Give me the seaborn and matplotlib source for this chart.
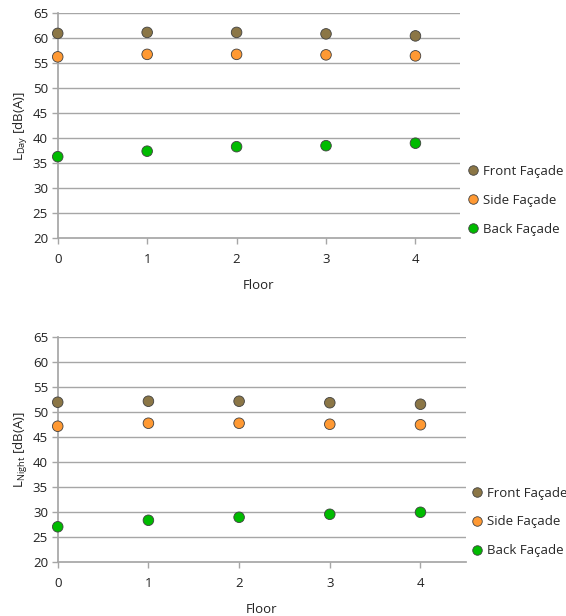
import pandas as pd
import numpy as np
import seaborn as sns
import matplotlib.pyplot as plt

floors = [0, 1, 2, 3, 4]
facades = ['Front Façade', 'Side Façade', 'Back Façade']

day_front = [61.0, 61.2, 61.2, 60.9, 60.5]
day_side = [56.3, 56.8, 56.8, 56.7, 56.5]
day_back = [36.3, 37.4, 38.3, 38.5, 39.0]

night_front = [51.9, 52.1, 52.1, 51.8, 51.5]
night_side = [47.1, 47.7, 47.7, 47.5, 47.4]
night_back = [27.0, 28.3, 28.9, 29.5, 29.9]

colors = ['#8B7646', '#FF9933', '#00BB00']

sns.set_theme(style='white')
plt.rcParams['font.family'] = ['Open Sans', 'DejaVu Sans']
plt.rcParams['mathtext.fontset'] = 'custom'
plt.rcParams['mathtext.rm'] = 'Open Sans'
plt.rcParams['mathtext.it'] = 'Open Sans'


def make_df(front, side, back):
    rows = []
    for name, vals in zip(facades, [front, side, back]):
        for f, v in zip(floors, vals):
            rows.append({'Floor': f, 'Level': v, 'Facade': name})
    return pd.DataFrame(rows)


def draw(ax, df, ylabel, legend_pos):
    ax.set_axisbelow(True)
    for yv in range(25, 70, 5):
        ax.axhline(yv, color='#A6A6A6', lw=1.0, zorder=0)
    sns.scatterplot(data=df, x='Floor', y='Level', hue='Facade', palette=colors,
                    s=58, edgecolor='#404040', linewidth=0.6, ax=ax,
                    clip_on=False, zorder=3)
    ax.set_xlim(0, 4.5)
    ax.set_ylim(20, 65)
    ax.set_xticks(floors)
    ax.set_yticks(range(20, 70, 5))
    for s in ['top', 'right']:
        ax.spines[s].set_visible(False)
    ax.spines['left'].set_color('#A6A6A6')
    ax.spines['bottom'].set_color('#A6A6A6')
    ax.tick_params(axis='both', labelsize=9.5, colors='#A6A6A6', labelcolor='#222222',
                   length=4, width=1, left=True, bottom=True, direction='out', pad=3)
    ax.tick_params(axis='x', pad=7)
    ax.set_xlabel('Floor', fontsize=9.5, color='#222222', labelpad=9)
    ax.set_ylabel(ylabel, fontsize=9.5, color='#222222', labelpad=2)
    ax.grid(False)
    h, l = ax.get_legend_handles_labels()
    ax.legend(h, l, loc='upper left', bbox_to_anchor=legend_pos,
              bbox_transform=ax.figure.transFigure, frameon=False,
              fontsize=9.5, handlelength=0.8, handletextpad=0.35, labelspacing=1.2,
              borderaxespad=0, borderpad=0, markerscale=0.9)


fig = plt.figure(figsize=(5.66, 6.16), dpi=100)
ax1 = fig.add_axes([0.102, 0.6136, 0.711, 0.3646])
ax2 = fig.add_axes([0.102, 0.088, 0.721, 0.3654])

draw(ax1, make_df(day_front, day_side, day_back), r'L$_{\mathrm{Day}}$ [dB(A)]', (0.826, 0.732))
draw(ax2, make_df(night_front, night_side, night_back), r'L$_{\mathrm{Night}}$ [dB(A)]', (0.834, 0.210))

fig.savefig('out.png', dpi=100)
